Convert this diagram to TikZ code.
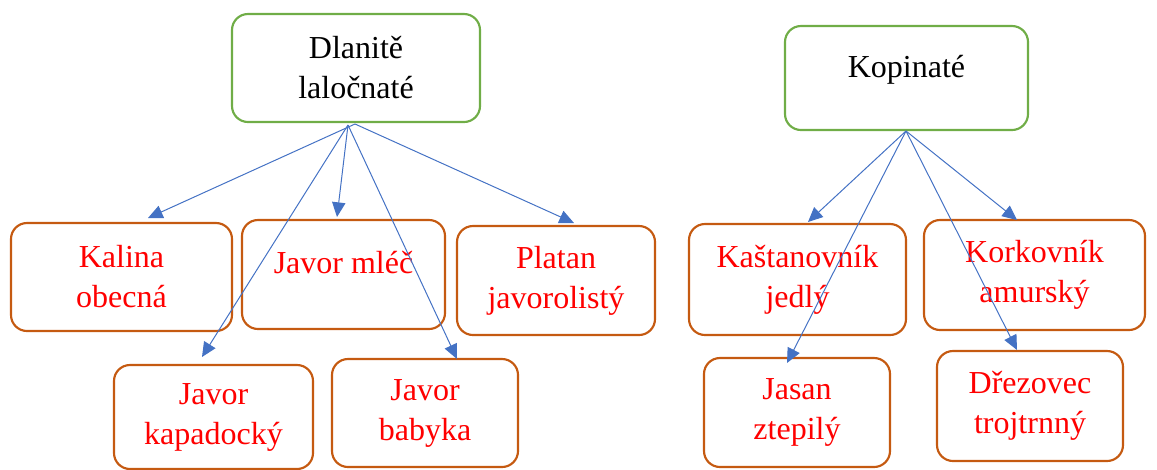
\documentclass[tikz,border=0pt]{standalone}
\usepackage{fontspec}
\setmainfont{Liberation Serif}
\usetikzlibrary{arrows.meta}
\definecolor{wgreen}{RGB}{112,173,71}
\definecolor{worange}{RGB}{197,90,17}
\definecolor{wblue}{RGB}{68,114,196}
\begin{document}
\begin{tikzpicture}[x=0.75pt,y=-0.75pt,
  box/.style={draw, line width=1.6pt, rounded corners=12pt, align=center,
    font=\fontsize{24}{30}\selectfont, inner sep=0pt},
  topbox/.style={box, draw=wgreen, text=black},
  leafbox/.style={box, draw=worange, text=red},
  conn/.style={draw=wblue, line width=0.75pt, -{Triangle[length=11pt,width=10pt]}}]
\useasboundingbox (0,0) rectangle (1157,469);

% parent boxes
\node[topbox, minimum width=186pt, minimum height=81pt] (dl) at (356,68) {Dlanitě\\laločnaté};
\node[topbox, minimum width=182.25pt, minimum height=78pt, text height=16pt, text depth=17pt] (ko) at (906.5,78) {Kopinaté};

% leaf boxes, left
\node[leafbox, minimum width=165.75pt, minimum height=81pt] (kal) at (121.5,277) {Kalina\\obecná};
\node[leafbox, minimum width=152.25pt, minimum height=81.75pt, text height=16pt, text depth=17pt] (mle) at (343.5,274.5) {Javor mléč};
\node[leafbox, minimum width=148.5pt, minimum height=81.75pt] (pla) at (556,280.5) {Platan\\javorolistý};
\node[leafbox, minimum width=149.25pt, minimum height=78pt] (kap) at (213.5,417) {Javor\\kapadocký};
\node[leafbox, minimum width=139.5pt, minimum height=81pt] (bab) at (425,413) {Javor\\babyka};

% leaf boxes, right
\node[leafbox, minimum width=162.75pt, minimum height=83.25pt] (kas) at (797.5,279.5) {Kaštanovník\\jedlý};
\node[leafbox, minimum width=165.75pt, minimum height=82.5pt] (kor) at (1034.5,275) {Korkovník\\amurský};
\node[leafbox, minimum width=139.5pt, minimum height=81.75pt] (jas) at (797,412.5) {Jasan\\ztepilý};
\node[leafbox, minimum width=139.5pt, minimum height=82.5pt] (dre) at (1030,406) {Dřezovec\\trojtrnný};

% connector end points
\coordinate (d1) at (348,125);
\coordinate (d2) at (355,124);
\coordinate (k0) at (906,131);
\coordinate (tkal) at (148,218);
\coordinate (tmle) at (337,217);
\coordinate (tpla) at (574,223);
\coordinate (tkap) at (202,357);
\coordinate (tbab) at (457,359);
\coordinate (tkas) at (808,222);
\coordinate (tkor) at (1017,220);
\coordinate (tjas) at (787,363);
\coordinate (tdre) at (1017,350);

\draw[conn] (d2) -- (tkal);
\draw[conn] (d1) -- (tmle);
\draw[conn] (d2) -- (tpla);
\draw[conn] (d1) -- (tkap);
\draw[conn] (d1) -- (tbab);
\draw[conn] (k0) -- (tkas);
\draw[conn] (k0) -- (tkor);
\draw[conn] (k0) -- (tjas);
\draw[conn] (k0) -- (tdre);
\end{tikzpicture}
\end{document}
